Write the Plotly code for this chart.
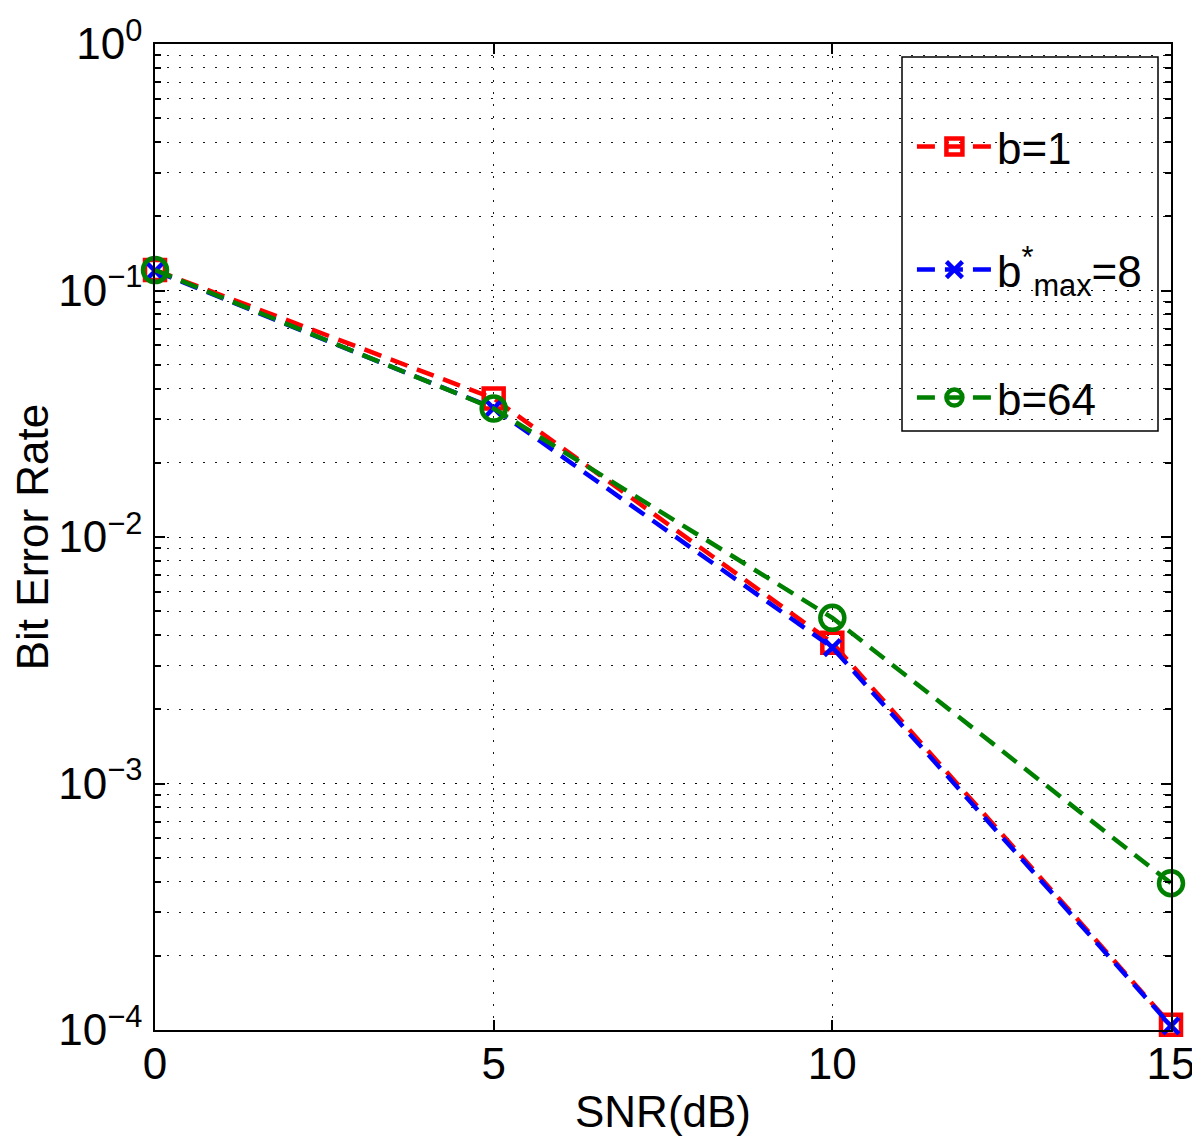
import plotly.graph_objects as go

snr = [0, 5, 10, 15]
ber_b1 = [0.121, 0.0365, 0.00372, 0.000105]
ber_bmax8 = [0.120, 0.0333, 0.00356, 0.000104]
ber_b64 = [0.121, 0.0332, 0.00470, 0.000394]

ytick_vals = [1e-4, 1e-3, 1e-2, 1e-1, 1e0]
ytick_text = ["10<sup>−4</sup>", "10<sup>−3</sup>", "10<sup>−2</sup>",
              "10<sup>−1</sup>", "10<sup>0</sup>"]
xtick_vals = [0, 5, 10, 15]

names = ["b=1", "b<sup>*</sup><sub>max</sub>=8", "b=64"]
colors = ["#ff0000", "#0000ff", "#008000"]
symbols = ["square-open", "x-thin-open", "circle-open"]
sizes = [20, 16, 24]
series = [ber_b1, ber_bmax8, ber_b64]

FONT = "Liberation Sans, Arial, Helvetica, sans-serif"

fig = go.Figure()
for i, (nm, ys) in enumerate(zip(names, series)):
    fig.add_trace(go.Scatter(
        x=snr, y=ys, name=nm, mode="lines+markers",
        line=dict(color=colors[i], width=4.5, dash="18px,10px"),
        marker=dict(symbol=symbols[i], size=sizes[i], color=colors[i],
                    line=dict(color=colors[i], width=4.5)),
        cliponaxis=False,
        legend=["legend", "legend2", "legend3"][i],
    ))

gridcol = "rgba(0,0,0,0.9)"
fig.update_xaxes(
    range=[0, 15], tickvals=xtick_vals, ticks="inside", ticklen=10,
    tickwidth=1.5, tickcolor="black", showline=True, linecolor="black",
    linewidth=1.5, mirror="ticks", showgrid=True, gridcolor=gridcol,
    griddash="2px,10px", gridwidth=1, zeroline=False, automargin=False,
    ticklabelstandoff=-6,
    tickfont=dict(family=FONT, size=44, color="black"),
    title=dict(text="SNR(dB)", font=dict(family=FONT, size=44, color="black"),
               standoff=10),
)
fig.update_yaxes(
    type="log", range=[-4, 0], tickvals=ytick_vals, ticktext=ytick_text,
    ticks="inside", ticklen=10, tickwidth=1.5, tickcolor="black",
    showline=True, linecolor="black", linewidth=1.5, mirror="ticks",
    showgrid=True, gridcolor=gridcol, griddash="2px,10px", gridwidth=1,
    zeroline=False, automargin=False, ticklabelstandoff=2,
    minor=dict(ticks="inside", ticklen=6, tickcolor="black", dtick="D1",
               showgrid=True, gridcolor=gridcol, griddash="2px,10px",
               gridwidth=1),
    tickfont=dict(family=FONT, size=44, color="black"),
    title=dict(text="Bit Error Rate", font=dict(family=FONT, size=44, color="black"),
               standoff=37),
)

# page body adds an 8px offset; plot area targets pixels x 155..1171, y 44..1030
leg_common = dict(font=dict(family=FONT, size=44, color="black"),
                  bgcolor="rgba(0,0,0,0)", borderwidth=0, itemwidth=75,
                  xanchor="left", yanchor="middle", x=0.745)
fig.update_layout(
    legend=dict(**leg_common, y=(1030 - 147) / 986),
    legend2=dict(**leg_common, y=(1030 - 270) / 986),
    legend3=dict(**leg_common, y=(1030 - 398) / 986),
)
fig.add_shape(type="rect", xref="paper", yref="paper",
              x0=(902 - 155) / 1016, x1=(1158 - 155) / 1016,
              y0=(1030 - 431) / 986, y1=(1030 - 57) / 986,
              line=dict(color="black", width=1.5), fillcolor="white",
              layer="below")

fig.update_layout(
    width=1192, height=1134,
    margin=dict(l=147, r=29, t=36, b=112),
    paper_bgcolor="white", plot_bgcolor="white",
    showlegend=True,
)

fig.write_html("out.html")
